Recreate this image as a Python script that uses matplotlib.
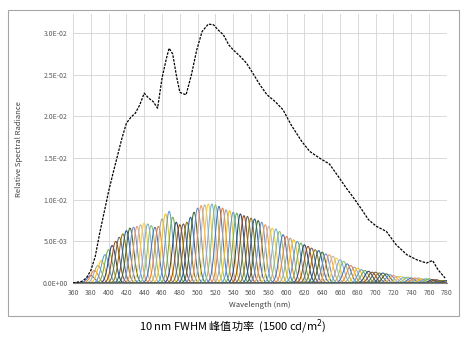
import numpy as np
import matplotlib.pyplot as plt
from matplotlib.patches import Rectangle
from matplotlib.ticker import FuncFormatter, MultipleLocator

plt.rcParams['font.family'] = ['Noto Sans CJK SC', 'DejaVu Sans']

# dashed envelope (total relative spectral radiance)
env_wl = [360, 370, 375, 380, 385, 390, 395, 400, 405, 410, 415, 420, 425, 430, 435,
          440, 445, 450, 455, 460, 465, 468, 472, 476, 480, 487, 493, 499, 505, 512,
          518, 523, 529, 535, 540, 548, 555, 562, 570, 578, 587, 596, 605, 617, 626,
          637, 648, 658, 667, 672, 682, 692, 701, 712, 723, 735, 746, 757, 764, 770, 778]
env_val = [0.0000, 0.0002, 0.0006, 0.0015, 0.0032, 0.0060, 0.0085, 0.0110, 0.0132, 0.0153,
           0.0174, 0.0192, 0.0199, 0.0204, 0.0214, 0.0228, 0.0222, 0.0218, 0.0210, 0.0246,
           0.0270, 0.0282, 0.0275, 0.0250, 0.0229, 0.0226, 0.0250, 0.0280, 0.0302, 0.0311,
           0.0310, 0.0304, 0.0298, 0.0286, 0.0280, 0.0272, 0.0264, 0.0252, 0.0238, 0.0226,
           0.0218, 0.0208, 0.0190, 0.0170, 0.0158, 0.0150, 0.0143, 0.0128, 0.0114, 0.0107,
           0.0092, 0.0076, 0.0068, 0.0062, 0.0046, 0.0034, 0.0028, 0.0024, 0.0027, 0.0016,
           0.0006]

# individual 10 nm FWHM bands: centre wavelength and peak height
fwhm = 10.0
band_centers = list(range(380, 781, 4))
band_peaks = [0.0009, 0.0015, 0.0021, 0.0027, 0.0034, 0.0040, 0.0045, 0.0050, 0.0055, 0.0059,
              0.0063, 0.0066, 0.0067, 0.0068, 0.0070, 0.0072, 0.0071, 0.0069, 0.0067, 0.0068,
              0.0077, 0.0083, 0.0086, 0.0079, 0.0073, 0.0070, 0.0071, 0.0073, 0.0079, 0.0085,
              0.0090, 0.0093, 0.0094, 0.0095, 0.0095, 0.0094, 0.0092, 0.0090, 0.0088, 0.0087,
              0.0085, 0.0084, 0.0083, 0.0081, 0.0080, 0.0078, 0.0077, 0.0075, 0.0073, 0.0070,
              0.0068, 0.0066, 0.0065, 0.0062, 0.0058, 0.0056, 0.0054, 0.0052, 0.0050, 0.0048,
              0.0046, 0.0044, 0.0042, 0.0040, 0.0039, 0.0037, 0.0035, 0.0034, 0.0032, 0.0030,
              0.0028, 0.0026, 0.0023, 0.0021, 0.0019, 0.0018, 0.0016, 0.0015, 0.0014, 0.0013,
              0.0013, 0.0012, 0.0012, 0.0011, 0.0010, 0.0009, 0.0008, 0.0008, 0.0007, 0.0007,
              0.0006, 0.0006, 0.0006, 0.0005, 0.0005, 0.0005, 0.0004, 0.0004, 0.0003, 0.0003,
              0.0003]

# office-style colour cycle
colors = ['#4472C4', '#ED7D31', '#A5A5A5', '#FFC000', '#5B9BD5', '#70AD47',
          '#264478', '#9E480E', '#636363', '#997300', '#255E91', '#43682B',
          '#698ED0', '#F1975A', '#B7B7B7', '#FFCD33', '#7CAFDD', '#8CC168']

fig = plt.figure(figsize=(4.65, 3.4), dpi=100)

# outer chart frame
fig.patches.append(Rectangle((0.0172, 0.0706), 0.970, 0.900, transform=fig.transFigure,
                             fill=False, edgecolor='#A6A6A6', linewidth=0.8))

ax = fig.add_axes([0.157, 0.1676, 0.804, 0.791])

wl = np.linspace(360, 780, 841)
sigma = fwhm / 2.3548
for i, (c, p) in enumerate(zip(band_centers, band_peaks)):
    ax.plot(wl, p * np.exp(-0.5 * ((wl - c) / sigma) ** 2),
            color=colors[i % len(colors)], lw=0.75, zorder=2)

ax.plot(env_wl, env_val, color='black', lw=0.9, linestyle=(0, (2, 1)), zorder=3)

ax.set_xlim(360, 780)
ax.set_ylim(0, 0.0323)
ax.xaxis.set_major_locator(MultipleLocator(20))
ax.set_yticks(np.arange(0, 0.0301, 0.005))
ax.yaxis.set_major_formatter(FuncFormatter(
    lambda v, pos: '0.0E+00' if v == 0 else f'{v:.1E}'))
ax.grid(True, color='#D9D9D9', lw=0.7, zorder=0)
ax.set_axisbelow(True)
for s in ['top', 'right', 'left']:
    ax.spines[s].set_visible(False)
ax.spines['bottom'].set_color('#808080')
ax.spines['bottom'].set_linewidth(0.8)
ax.tick_params(length=0, labelsize=5, colors='#595959', pad=4)

ax.set_xlabel('Wavelength (nm)', fontsize=5.5, color='#404040', labelpad=3)
ax.set_ylabel('Relative Spectral Radiance', fontsize=5.5, color='#404040', labelpad=14)

fig.text(0.5, 0.038, '10 nm FWHM 峰值功率  (1500 cd/m$^{2}$)', ha='center', va='center',
         fontsize=8, color='black')

fig.savefig('out.png', dpi=100)
